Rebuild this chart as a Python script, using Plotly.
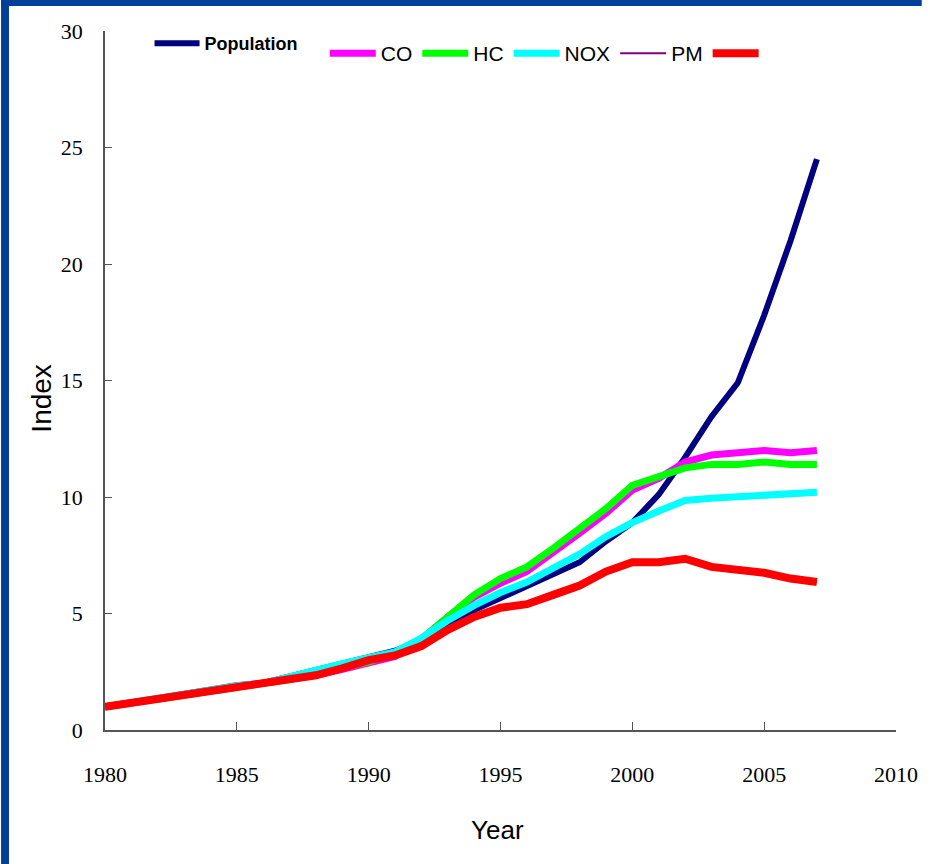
import plotly.graph_objects as go

years = list(range(1980, 2008))

population = [1.0, 1.18, 1.35, 1.53, 1.72, 1.92, 2.02, 2.3, 2.6, 2.9,
              3.15, 3.4, 3.85, 4.6, 5.15, 5.65, 6.15, 6.65, 7.2, 8.1,
              8.9, 10.1, 11.7, 13.45, 14.9, 17.8, 21.0, 24.5]
co = [1.0, 1.17, 1.33, 1.5, 1.67, 1.83, 1.95, 2.15, 2.35, 2.6,
      2.85, 3.15, 3.9, 4.85, 5.7, 6.3, 6.8, 7.6, 8.45, 9.3,
      10.3, 10.8, 11.5, 11.8, 11.9, 12.0, 11.9, 12.0]
hc = [1.0, 1.17, 1.33, 1.5, 1.67, 1.84, 1.96, 2.17, 2.42, 2.67,
      2.92, 3.3, 3.9, 4.85, 5.8, 6.5, 7.0, 7.8, 8.65, 9.5,
      10.5, 10.9, 11.25, 11.4, 11.4, 11.5, 11.4, 11.4]
nox = [1.0, 1.18, 1.35, 1.52, 1.7, 1.9, 2.0, 2.3, 2.6, 2.85,
       3.1, 3.35, 3.95, 4.7, 5.35, 5.9, 6.35, 6.95, 7.55, 8.3,
       8.9, 9.4, 9.85, 9.95, 10.0, 10.1, 10.1, 10.2]
pm = [1.0, 1.17, 1.33, 1.5, 1.67, 1.82, 1.95, 2.15, 2.35, 2.65,
      3.0, 3.2, 3.6, 4.3, 4.85, 5.25, 5.4, 5.8, 6.2, 6.8,
      7.2, 7.2, 7.35, 7.0, 6.85, 6.75, 6.5, 6.35]
red_series = [1.0, 1.17, 1.33, 1.5, 1.67, 1.82, 1.95, 2.15, 2.35, 2.65,
              3.0, 3.2, 3.6, 4.3, 4.85, 5.25, 5.4, 5.8, 6.2, 6.8,
              7.2, 7.2, 7.35, 7.0, 6.85, 6.75, 6.5, 6.35]

x_ticks = [1980, 1985, 1990, 1995, 2000, 2005, 2010]
y_ticks = [0, 5, 10, 15, 20, 25, 30]

NARROW = "Liberation Sans Narrow, Arial Narrow, Liberation Sans, Arial"
SERIF = "Liberation Serif, Times New Roman, serif"

series = [
    ("<b>Population</b>", population, "#000080", 6, "legend"),
    ("CO", co, "#FF00FF", 7, "legend2"),
    ("HC", hc, "#00FF00", 7, "legend2"),
    ("NOX", nox, "#00FFFF", 7, "legend2"),
    ("PM", pm, "#800080", 2, "legend2"),
    (" ", red_series, "#FF0000", 8, "legend2"),
]

fig = go.Figure()
for name, vals, color, width, lg in series:
    fig.add_trace(go.Scatter(
        x=years, y=vals, mode="lines", name=name, legend=lg,
        line=dict(color=color, width=width),
    ))

L, R, T, B = 105, 26, 31, 134
W, H = 930, 864
pw, ph = W - L - R, H - T - B

def px_x(p):
    return (p - L) / pw

def px_y(p):
    return (H - B - p) / ph

fig.update_layout(
    width=W, height=H, autosize=False,
    margin=dict(l=L, r=R, t=T, b=B),
    paper_bgcolor="white", plot_bgcolor="white",
    showlegend=True,
    legend=dict(
        orientation="h", x=px_x(150), y=px_y(25), xanchor="left", yanchor="top",
        font=dict(family="Liberation Sans, Arial", size=18, color="black"),
        itemwidth=45, bgcolor="rgba(0,0,0,0)", tracegroupgap=0,
    ),
    legend2=dict(
        orientation="h", x=px_x(327), y=px_y(33), xanchor="left", yanchor="top",
        font=dict(family=NARROW, size=21, color="black"),
        itemwidth=46, bgcolor="rgba(0,0,0,0)",
    ),
    xaxis=dict(
        range=[1980, 2010], tickvals=x_ticks, ticktext=[str(v) for v in x_ticks],
        showgrid=False, zeroline=False, showline=True, linecolor="#555555",
        linewidth=1.5, ticks="inside", ticklen=8, tickcolor="#555555",
        tickfont=dict(family=SERIF, size=22, color="black"),
        ticklabelstandoff=24,
    ),
    yaxis=dict(
        range=[0, 30], tickvals=y_ticks, ticktext=[str(v) for v in y_ticks],
        showgrid=False, zeroline=False, showline=True, linecolor="#555555",
        linewidth=1.5, ticks="inside", ticklen=7, tickcolor="#555555",
        tickfont=dict(family=SERIF, size=22, color="black"),
        ticklabelstandoff=16,
    ),
    shapes=[
        dict(type="rect", xref="paper", yref="paper",
             x0=px_x(0), x1=px_x(8), y0=px_y(H), y1=px_y(0),
             fillcolor="#003F9A", line=dict(width=0), layer="above"),
        dict(type="rect", xref="paper", yref="paper",
             x0=px_x(0), x1=px_x(W), y0=px_y(6), y1=px_y(0),
             fillcolor="#003F9A", line=dict(width=0), layer="above"),
    ],
    annotations=[
        dict(text="Index", xref="paper", yref="paper", x=px_x(40), y=px_y(398),
             showarrow=False, textangle=-90, xanchor="center", yanchor="middle",
             font=dict(family=NARROW, size=28, color="black")),
        dict(text="Year", xref="paper", yref="paper", x=px_x(501), y=px_y(830),
             showarrow=False, xanchor="center", yanchor="middle",
             font=dict(family=NARROW, size=26, color="black")),
    ],
)

fig.write_html(
    "out.html",
    config={"responsive": False, "displayModeBar": False},
    post_script="document.body.style.margin='0';document.body.style.overflow='hidden';",
)
